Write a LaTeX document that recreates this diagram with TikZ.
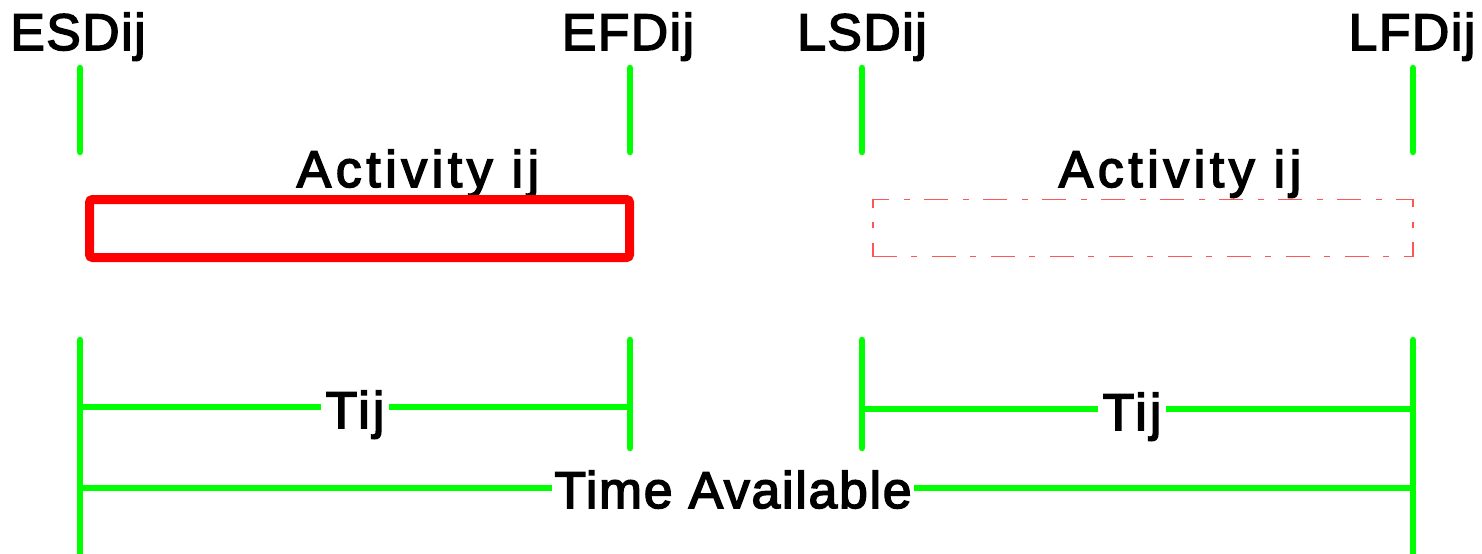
\documentclass[tikz,border=0pt]{standalone}
\usepackage{fontspec}
\setmainfont{Liberation Sans}[BoldFont={Liberation Sans}, BoldFeatures={FakeBold=3}]
\definecolor{gr}{RGB}{0,255,0}
\definecolor{rd}{RGB}{255,0,0}
\definecolor{lrd}{RGB}{255,85,85}
\begin{document}
\begin{tikzpicture}[x=0.5pt,y=-0.5pt,
  gline/.style={draw=gr, line width=3.25pt, line cap=round},
  lbl/.style={inner sep=0pt, anchor=base, font=\fontsize{25.8}{30}\selectfont\bfseries\addfontfeatures{LetterSpace=3}},
  actlbl/.style={lbl, font=\fontsize{25.8}{30}\selectfont\bfseries\addfontfeatures{LetterSpace=9}},
  tlbl/.style={lbl, font=\fontsize{25.8}{30}\selectfont\bfseries\addfontfeatures{LetterSpace=6}},
  avlbl/.style={lbl, font=\fontsize{25.8}{30}\selectfont\bfseries\addfontfeatures{LetterSpace=3.5}},
  ]
\useasboundingbox (0,0) rectangle (1482,553);
% top labels
\node[lbl] (esd) at (78,50) {ESDij};
\node[lbl] (efd) at (628,50) {EFDij};
\node[lbl] (lsd) at (862,50) {LSDij};
\node[lbl] (lfd) at (1412,50) {LFDij};
% top ticks
\coordinate (t1a) at (80,68);   \coordinate (t1b) at (80,152);
\coordinate (t2a) at (630,68);  \coordinate (t2b) at (630,152);
\coordinate (t3a) at (862,68);  \coordinate (t3b) at (862,152);
\coordinate (t4a) at (1413,68); \coordinate (t4b) at (1413,152);
\draw[gline] (t1a) -- (t1b);
\draw[gline] (t2a) -- (t2b);
\draw[gline] (t3a) -- (t3b);
\draw[gline] (t4a) -- (t4b);
% activity labels
\node[actlbl] (actL) at (418,187) {Activity ij};
\node[actlbl] (actR) at (1180,187) {Activity ij};
% boxes
\node[draw=rd, line width=4.5pt, rounded corners=1.5pt, minimum width=540*0.5pt, minimum height=58*0.5pt, inner sep=0pt] (boxL) at (359.5,228.5) {};
\node[draw=lrd, line width=0.9pt, dash pattern=on 12pt off 7pt on 3pt off 7.5pt, minimum width=540*0.5pt, minimum height=57*0.5pt, inner sep=0pt] (boxR) at (1143,228) {};
% bottom verticals
\coordinate (b1a) at (80,340);   \coordinate (b1b) at (80,560);
\coordinate (b2a) at (630,340);  \coordinate (b2b) at (630,448);
\coordinate (b3a) at (862,340);  \coordinate (b3b) at (862,448);
\coordinate (b4a) at (1413,340); \coordinate (b4b) at (1413,560);
\draw[gline] (b1a) -- (b1b);
\draw[gline] (b2a) -- (b2b);
\draw[gline] (b3a) -- (b3b);
\draw[gline] (b4a) -- (b4b);
% Tij left
\coordinate (h1a) at (80,407); \coordinate (h1b) at (630,407);
\node[tlbl, inner xsep=2pt] (tijL) at (355,428) {Tij};
\draw[gline, line cap=butt] (h1a) -- (tijL.west |- h1a);
\draw[gline, line cap=butt] (tijL.east |- h1a) -- (h1b);
% Tij right
\coordinate (h2a) at (862,409); \coordinate (h2b) at (1413,409);
\node[tlbl, inner xsep=2pt] (tijR) at (1132,430) {Tij};
\draw[gline, line cap=butt] (h2a) -- (tijR.west |- h2a);
\draw[gline, line cap=butt] (tijR.east |- h2a) -- (h2b);
% Time Available
\coordinate (h3a) at (80,488); \coordinate (h3b) at (1413,488);
\node[avlbl, inner xsep=1pt] (avail) at (733,508) {Time Available};
\draw[gline, line cap=butt] (h3a) -- (avail.west |- h3a);
\draw[gline, line cap=butt] (avail.east |- h3a) -- (h3b);
\end{tikzpicture}
\end{document}
